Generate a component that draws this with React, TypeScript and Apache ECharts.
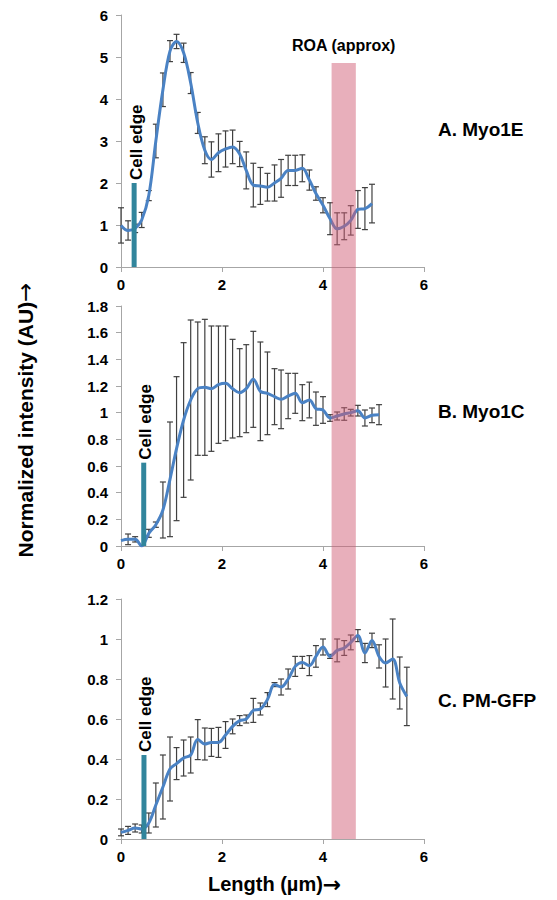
import React, { useEffect, useRef } from "react";
import * as echarts from "echarts";

// Sample positions along the line scan (µm)
const lengths = [
  0, 0.14, 0.28, 0.41, 0.55, 0.69, 0.83, 0.97, 1.1, 1.24, 1.38, 1.52, 1.66, 1.79,
  1.93, 2.07, 2.21, 2.35, 2.48, 2.62, 2.76, 2.9, 3.04, 3.17, 3.31, 3.45, 3.59,
  3.73, 3.86, 4.0, 4.14, 4.28, 4.42, 4.55, 4.69, 4.83, 4.97, 5.11, 5.24, 5.38,
  5.52, 5.66,
];

// A. Myo1E
const myo1e = [
  0.99, 0.87, 0.92, 1.12, 1.7, 3.0, 4.22, 5.14, 5.37, 5.1, 4.38, 3.43, 2.78, 2.56,
  2.72, 2.81, 2.86, 2.69, 2.3, 1.95, 1.93, 1.9, 2.0, 2.11, 2.3, 2.3, 2.35, 2.07,
  1.75, 1.47, 1.15, 0.91, 0.97, 1.11, 1.37, 1.39, 1.51,
];
const myo1eErr = [
  0.42, 0.23, 0.1, 0.18, 0.12, 0.4, 0.4, 0.25, 0.17, 0.23, 0.25, 0.25, 0.32, 0.42,
  0.45, 0.43, 0.4, 0.3, 0.44, 0.52, 0.44, 0.33, 0.43, 0.45, 0.36, 0.36, 0.32, 0.24,
  0.16, 0.18, 0.38, 0.38, 0.32, 0.35, 0.45, 0.5, 0.46,
];

// B. Myo1C
const myo1c = [
  0.04, 0.05, 0.05, 0.0, 0.095, 0.16, 0.27, 0.5, 0.73, 0.945, 1.095, 1.18, 1.19,
  1.18, 1.21, 1.22, 1.18, 1.15, 1.18, 1.25, 1.16, 1.145, 1.12, 1.1, 1.125, 1.145,
  1.075, 1.095, 1.03, 1.02, 0.96, 0.975, 0.99, 1.0, 1.015, 0.96, 0.98, 0.985,
];
const myo1cErr = [
  0, 0.04, 0.02, 0, 0.03, 0.02, 0.21, 0.43, 0.54, 0.58, 0.6, 0.5, 0.51, 0.47, 0.44,
  0.43, 0.37, 0.33, 0.33, 0.36, 0.37, 0.31, 0.21, 0.22, 0.17, 0.15, 0.135, 0.134,
  0.125, 0.1, 0.025, 0.03, 0.047, 0.025, 0.04, 0.06, 0.055, 0.075,
];

// C. PM-GFP
const pmgfp = [
  0.033, 0.043, 0.055, 0.05, 0.08, 0.17, 0.26, 0.35, 0.377, 0.405, 0.42, 0.497,
  0.475, 0.483, 0.483, 0.52, 0.563, 0.592, 0.6, 0.643, 0.65, 0.697, 0.772, 0.76,
  0.8, 0.863, 0.883, 0.867, 0.913, 0.96, 0.913, 0.943, 0.955, 0.983, 1.017, 0.93,
  0.993, 0.913, 0.88, 0.9, 0.78, 0.713,
];
const pmgfpErr = [
  0.017, 0.02, 0.02, 0.02, 0.05, 0.11, 0.16, 0.16, 0.08, 0.09, 0.09, 0.1, 0.08,
  0.07, 0.075, 0.067, 0.037, 0.025, 0.02, 0.06, 0.03, 0.035, 0.01, 0.04, 0.05,
  0.05, 0.03, 0.05, 0.054, 0.04, 0.01, 0.057, 0.037, 0.037, 0.03, 0.048, 0.036,
  0.058, 0.12, 0.2, 0.13, 0.146,
];

// Cell edge markers (x position, bar height) per panel
const cellEdgeX = [0.26, 0.45, 0.455];
const cellEdgeTop = [2.0, 0.625, 0.42];

// Region of attachment band (µm)
const roaRange = [4.17, 4.65];

// Axis ranges per panel
const yMax = [6, 1.8, 1.2];
const yStep = [1, 0.2, 0.2];
const xTicks = [0, 2, 4, 6];

const panelLabels = ["A. Myo1E", "B. Myo1C", "C. PM-GFP"];

const FONT = '"Liberation Sans", Arial, Helvetica, sans-serif';
const ARROW_FONT = '"DejaVu Sans", sans-serif';
const LINE_COLOR = "#4A82C4";
const ERR_COLOR = "#404040";
const EDGE_COLOR = "#31859C";
const AXIS_COLOR = "#A6A6A6";

const pairs = (vals: number[]) => vals.map((v, i) => [lengths[i], v]);
const errTriples = (vals: number[], errs: number[]) =>
  vals.map((v, i) => [lengths[i], v - errs[i], v + errs[i]]);

const errorRender = (_params: any, api: any) => {
  const x = api.value(0);
  const lo = api.value(1);
  const hi = api.value(2);
  if (hi - lo < 0.001) return { type: "group", children: [] };
  const pLo = api.coord([x, lo]);
  const pHi = api.coord([x, hi]);
  const cap = 3;
  const style = { stroke: ERR_COLOR, lineWidth: 1.2 };
  return {
    type: "group",
    children: [
      { type: "line", shape: { x1: pHi[0], y1: pHi[1], x2: pLo[0], y2: pLo[1] }, style },
      { type: "line", shape: { x1: pHi[0] - cap, y1: pHi[1], x2: pHi[0] + cap, y2: pHi[1] }, style },
      { type: "line", shape: { x1: pLo[0] - cap, y1: pLo[1], x2: pLo[0] + cap, y2: pLo[1] }, style },
    ],
  };
};

const cellRender = (_params: any, api: any) => {
  const x = api.value(0);
  const top = api.value(1);
  const p0 = api.coord([x, 0]);
  const p1 = api.coord([x, top]);
  return {
    type: "group",
    children: [
      {
        type: "rect",
        shape: { x: p0[0] - 2.5, y: p1[1], width: 5, height: p0[1] - p1[1] },
        style: { fill: EDGE_COLOR },
      },
      {
        type: "text",
        x: p1[0] + 2,
        y: p1[1] - 3,
        rotation: Math.PI / 2,
        style: {
          text: "Cell edge",
          font: `bold 17px ${FONT}`,
          fill: "#000",
          align: "left",
          verticalAlign: "middle",
        },
      },
    ],
  };
};

const bandRender = (_params: any, api: any) => {
  const a = api.coord([api.value(0), 1]);
  const b = api.coord([api.value(1), 0]);
  return {
    type: "group",
    children: [
      {
        type: "rect",
        shape: { x: a[0], y: a[1], width: b[0] - a[0], height: b[1] - a[1] },
        style: { fill: "rgba(209,91,117,0.49)" },
      },
      {
        type: "text",
        x: (a[0] + b[0]) / 2,
        y: a[1] - 18,
        style: {
          text: "ROA (approx)",
          font: `bold 16px ${FONT}`,
          fill: "#000",
          align: "center",
          verticalAlign: "middle",
        },
      },
    ],
  };
};

export default function App() {
  const ref = useRef<HTMLDivElement>(null);

  useEffect(() => {
    document.body.style.margin = "0";
    if (!ref.current) return;
    const chart = echarts.init(ref.current, undefined, { renderer: "svg" });

    const grids = [
      { left: 121, top: 15, width: 303, height: 252 },
      { left: 121, top: 306, width: 303, height: 240 },
      { left: 121, top: 599, width: 303, height: 240 },
      { left: 121, top: 63, width: 303, height: 776 },
    ];

    const labelStyle = {
      color: "#000",
      fontWeight: "bold" as const,
      fontSize: 15,
      fontFamily: FONT,
    };

    const xAxes: any[] = [0, 1, 2].map((i) => ({
      type: "value",
      gridIndex: i,
      min: 0,
      max: 6,
      interval: 2,
      splitLine: { show: false },
      axisLine: { show: true, lineStyle: { color: AXIS_COLOR, width: 1 } },
      axisTick: { show: true, length: 5, lineStyle: { color: AXIS_COLOR } },
      axisLabel: { ...labelStyle, margin: 10, customValues: xTicks },
    }));
    xAxes.push({ type: "value", gridIndex: 3, min: 0, max: 6, show: false });

    const yAxes: any[] = [0, 1, 2].map((i) => ({
      type: "value",
      gridIndex: i,
      min: 0,
      max: yMax[i],
      interval: yStep[i],
      splitLine: { show: false },
      axisLine: { show: true, lineStyle: { color: AXIS_COLOR, width: 1 } },
      axisTick: { show: true, length: 5, lineStyle: { color: AXIS_COLOR } },
      axisLabel: {
        ...labelStyle,
        margin: 13,
        formatter: (v: number) => String(Math.round(v * 10) / 10),
      },
    }));
    yAxes.push({ type: "value", gridIndex: 3, min: 0, max: 1, show: false });

    const means = [myo1e, myo1c, pmgfp];
    const errs = [myo1eErr, myo1cErr, pmgfpErr];

    const series: any[] = [];
    [0, 1, 2].forEach((i) => {
      series.push({
        type: "custom",
        xAxisIndex: i,
        yAxisIndex: i,
        z: 2,
        clip: false,
        renderItem: errorRender,
        data: errTriples(means[i], errs[i]),
      });
      series.push({
        type: "line",
        xAxisIndex: i,
        yAxisIndex: i,
        z: 3,
        smooth: 0.35,
        symbol: "none",
        lineStyle: { color: LINE_COLOR, width: 3 },
        data: pairs(means[i]),
      });
      series.push({
        type: "custom",
        xAxisIndex: i,
        yAxisIndex: i,
        z: 4,
        clip: false,
        renderItem: cellRender,
        data: [[cellEdgeX[i], cellEdgeTop[i]]],
      });
    });
    series.push({
      type: "custom",
      xAxisIndex: 3,
      yAxisIndex: 3,
      z: 10,
      clip: false,
      renderItem: bandRender,
      data: [[roaRange[0], roaRange[1]]],
    });

    const labelYs = [131, 413, 702];
    const graphic: any[] = panelLabels.map((t, i) => ({
      type: "text",
      left: 438,
      top: labelYs[i] - 11,
      style: {
        text: t,
        font: `bold 19px ${FONT}`,
        fill: "#000",
      },
    }));
    graphic.push({
      type: "text",
      x: 25,
      y: 420,
      rotation: Math.PI / 2,
      style: {
        text: "Normalized intensity (AU){a|→}",
        font: `bold 21px ${FONT}`,
        fill: "#000",
        textAlign: "center",
        textVerticalAlign: "middle",
        rich: {
          a: { fontFamily: ARROW_FONT, fontSize: 23, fontWeight: "normal", fill: "#000" },
        },
      },
    });
    graphic.push({
      type: "text",
      x: 208,
      y: 884,
      style: {
        text: "Length (µm){a|→}",
        font: `bold 20px ${FONT}`,
        fill: "#000",
        textAlign: "left",
        textVerticalAlign: "middle",
        rich: {
          a: { fontFamily: ARROW_FONT, fontSize: 22, fontWeight: "bold", fill: "#000" },
        },
      },
    });

    chart.setOption({
      animation: false,
      backgroundColor: "#fff",
      grid: grids,
      xAxis: xAxes,
      yAxis: yAxes,
      series,
      graphic,
    });

    return () => chart.dispose();
  }, []);

  return <div ref={ref} style={{ width: 557, height: 900 }} />;
}
